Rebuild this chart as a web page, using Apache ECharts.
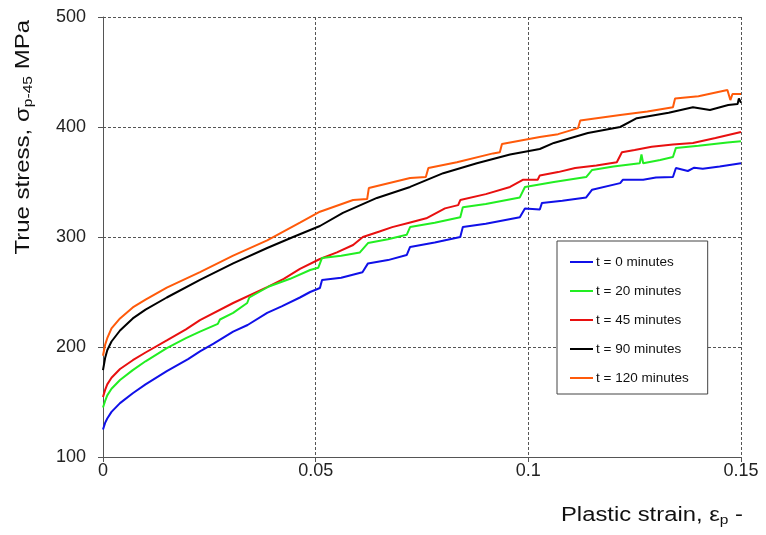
<!DOCTYPE html>
<html><head><meta charset="utf-8">
<script src="https://cdn.jsdelivr.net/npm/echarts@6/dist/echarts.min.js"></script>
<style>html,body{margin:0;padding:0;background:#fff}#c{width:766px;height:535px}</style>
</head><body><div id="c"></div>
<script>
// Data: [plastic strain, true stress MPa]
const seriesNames = ['t = 0 minutes','t = 20 minutes','t = 45 minutes','t = 90 minutes','t = 120 minutes'];
const xTicks = [0, 0.05, 0.1, 0.15];
const yTicks = [100, 200, 300, 400, 500];
const t0 = [[0,125],[0.0005,131],[0.001,135],[0.002,141],[0.004,149],[0.007,158],[0.01,166],[0.015,178],[0.02,189],[0.0228,196],[0.026,203],[0.0306,214],[0.034,220],[0.0386,231],[0.042,237],[0.0463,245],[0.0487,250],[0.051,253.6],[0.0515,261],[0.056,263],[0.061,268],[0.0623,276],[0.067,279],[0.0714,283.6],[0.0722,291],[0.078,295],[0.084,300],[0.0846,309],[0.09,312],[0.098,318],[0.0992,326],[0.1027,325],[0.1032,331],[0.108,333],[0.1136,336],[0.115,343],[0.1216,349],[0.1222,352],[0.127,352],[0.13,354],[0.134,354.5],[0.1347,362.7],[0.1375,360],[0.139,363],[0.141,362],[0.145,364],[0.15,367]];
const t20 = [[0,145],[0.0005,151],[0.001,156],[0.002,162],[0.004,170],[0.007,179],[0.01,187],[0.015,199],[0.0195,208],[0.0228,214],[0.027,221],[0.0275,225],[0.0306,231],[0.0339,240],[0.0344,245],[0.039,255],[0.044,262],[0.0487,270],[0.0506,272],[0.0515,281],[0.056,283],[0.0604,286],[0.0623,294.5],[0.067,298],[0.0714,302],[0.0722,309],[0.078,313],[0.084,318],[0.0846,327],[0.09,330],[0.098,336],[0.0992,345.5],[0.106,350],[0.1136,354.5],[0.115,361],[0.12,364],[0.1262,367],[0.1266,375],[0.127,367],[0.131,370],[0.134,372.7],[0.1347,381],[0.14,383],[0.1468,386],[0.15,387]];
const t45 = [[0,154.5],[0.0005,161],[0.001,166],[0.002,172],[0.004,180],[0.007,188],[0.01,195],[0.015,206],[0.0195,216],[0.0228,224.5],[0.0306,240],[0.0386,254.5],[0.0425,262],[0.0463,271],[0.051,280],[0.055,286],[0.0588,292.7],[0.0611,300],[0.065,305],[0.068,309],[0.072,313],[0.076,317],[0.0804,326],[0.0835,329],[0.084,333.6],[0.09,339],[0.0957,345.5],[0.0987,352],[0.1022,352],[0.1027,356],[0.107,359],[0.111,362.7],[0.116,365],[0.1208,368],[0.122,377],[0.125,379],[0.129,382],[0.134,384],[0.1387,385.5],[0.144,390],[0.15,395.5]];
const t90 = [[0,179],[0.0005,190],[0.001,197],[0.002,205],[0.004,215],[0.007,226],[0.01,234],[0.015,245],[0.0228,261],[0.0306,276],[0.0386,290],[0.0447,300],[0.051,310],[0.0564,322],[0.0644,335.5],[0.0722,345.5],[0.08,358],[0.0879,367],[0.0957,375],[0.1027,380],[0.106,385.5],[0.114,394.5],[0.1216,400],[0.1255,408],[0.133,413],[0.1387,418],[0.1427,415.5],[0.147,420],[0.1492,421],[0.1495,426],[0.15,422]];
const t120 = [[0,192],[0.0005,202],[0.001,208],[0.002,217],[0.004,226],[0.007,236],[0.01,243],[0.015,254],[0.0228,268],[0.0306,283],[0.0386,297],[0.0463,313],[0.051,323],[0.0588,333.6],[0.0621,334.5],[0.0625,344.5],[0.0722,353.6],[0.0759,354.5],[0.0765,362.7],[0.0832,368],[0.0917,376],[0.0933,377],[0.0938,384.5],[0.1027,391],[0.107,393.5],[0.1117,399],[0.1122,406],[0.1216,411],[0.128,414],[0.134,418],[0.1345,426],[0.14,428],[0.1468,433.6],[0.1475,424.5],[0.148,430],[0.15,430]];
const seriesData = [t0, t20, t45, t90, t120];
const colors = ['#1010e8', '#22ee22', '#e81010', '#000000', '#ff5a0a'];

const chart = echarts.init(document.getElementById('c'), null, {renderer: 'canvas'});
const font = '"Liberation Sans", Arial, sans-serif';
chart.setOption({
  animation: false,
  backgroundColor: '#fff',
  color: colors,
  grid: {left: 103, right: 25, top: 17, bottom: 78, containLabel: false},
  xAxis: {
    type: 'value', min: xTicks[0], max: xTicks[xTicks.length-1], interval: 0.05,
    axisLine: {onZero: false, lineStyle: {color: '#555', width: 1}},
    axisTick: {show: true, length: 5, lineStyle: {color: '#555'}},
    axisLabel: {color: '#222', fontSize: 18, fontFamily: font, margin: 5},
    splitLine: {show: true, lineStyle: {color: '#555', type: [3, 2], width: 1}}
  },
  yAxis: {
    type: 'value', min: yTicks[0], max: yTicks[yTicks.length-1], interval: 100,
    axisLine: {show: true, lineStyle: {color: '#555', width: 1}},
    axisTick: {show: true, length: 5, lineStyle: {color: '#555'}},
    axisLabel: {color: '#222', fontSize: 18, fontFamily: font, margin: 17},
    splitLine: {show: true, lineStyle: {color: '#555', type: [3, 2], width: 1}}
  },
  legend: {
    orient: 'vertical', left: 557, top: 241,
    data: seriesNames,
    icon: 'rect', itemWidth: 23, itemHeight: 2, itemGap: 15,
    padding: [14, 19, 9, 13],
    backgroundColor: '#fff', borderColor: '#444', borderWidth: 1,
    textStyle: {fontSize: 13.5, fontFamily: font, color: '#111', padding: [0,0,0,-2], lineHeight: 14}
  },
  graphic: [
    {type: 'text', left: 13, top: 20, rotation: Math.PI/2, scaleX: 1.2,
     style: {
       text: '{n|True stress, σ}{s|p-45}{n| MPa}',
       rich: {n: {fontSize: 20, fontFamily: font, fill: '#111'},
              s: {fontSize: 13, fontFamily: font, fill: '#111', padding: [10,0,0,0]}},
       fill: '#111'
     }},
    {type: 'text', left: 561, top: 505, scaleX: 1.19,
     style: {
       text: '{n|Plastic strain, ε}{s|p}{n| -}',
       rich: {n: {fontSize: 20, fontFamily: font, fill: '#111'},
              s: {fontSize: 13, fontFamily: font, fill: '#111', padding: [10,0,0,0]}},
       fill: '#111'
     }}
  ],
  series: seriesData.map((d, i) => ({
    name: seriesNames[i], type: 'line', data: d, showSymbol: false, symbol: 'none',
    lineStyle: {width: 2, color: colors[i]}, itemStyle: {color: colors[i]}
  })).reverse()
});
</script></body></html>
